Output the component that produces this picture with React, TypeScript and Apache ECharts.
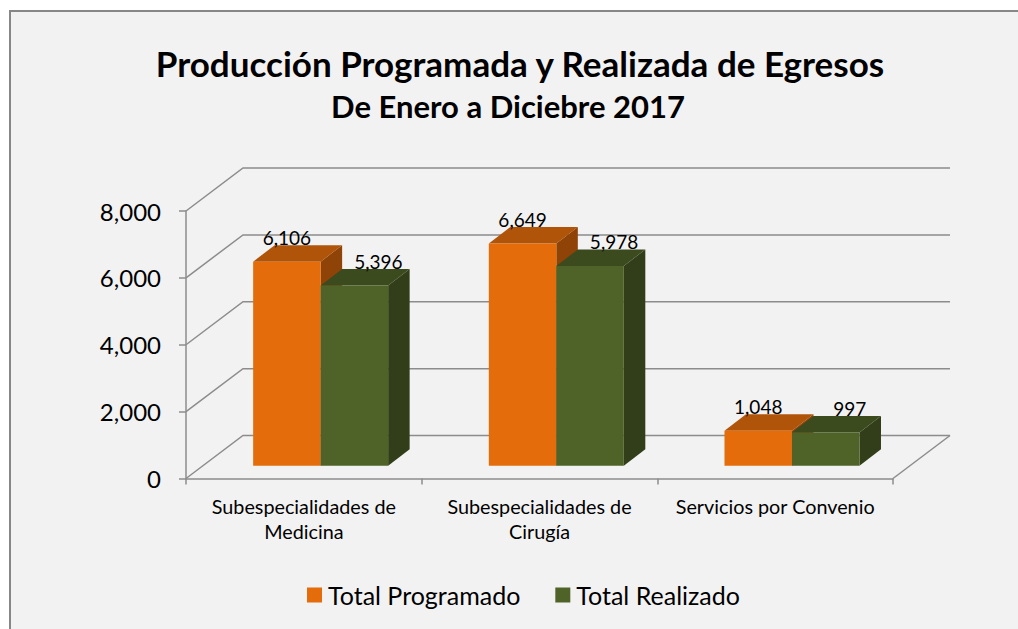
import React, { useEffect, useRef } from "react";
import * as echarts from "echarts";

const categories = ["Subespecialidades de\nMedicina", "Subespecialidades de\nCirugía", "Servicios por Convenio"];
const seriesNames = ["Total Programado", "Total Realizado"];
const programado = [6106, 6649, 1048];
const realizado = [5396, 5978, 997];
const yTicks = [0, 2000, 4000, 6000, 8000];
const titleText = "Producción Programada y Realizada de Egresos";
const subtitleText = "De Enero a Diciebre 2017";

const FONT = "Lato, 'Noto Sans', sans-serif";
const GRID_LINE = "#8c8c8c";
// oblique projection offsets
const WALL_DX = 57;
const WALL_DY = 43;
const PLANE_T = 0.295;
const BAR_DX = 21.5;
const BAR_DY = 16.5;
const BAR_RATIO = 0.2864;

const palettes = [
  { front: "#E46C0A", top: "#B0540A", side: "#8F4307" },
  { front: "#4F6228", top: "#3C4B1E", side: "#323E19" },
];

function makeBarRender(si: number) {
  return (params: any, api: any) => {
    const i = api.value(0);
    const v = api.value(1);
    const p0 = api.coord([i, 0]);
    const p1 = api.coord([i, v]);
    const band = api.size([1, 0])[0];
    const w = band * BAR_RATIO;
    const pdx = WALL_DX * PLANE_T;
    const pdy = WALL_DY * PLANE_T;
    const cx = p0[0] + pdx;
    const L = si === 0 ? cx - w : cx;
    const R = L + w;
    const T = p1[1] - pdy;
    const B = p0[1] - pdy;
    const pal = palettes[si];
    const labelX = L + w / 2 + (si === 1 ? 24 : 0);
    return {
      type: "group",
      children: [
        {
          type: "polygon",
          shape: { points: [[R, T], [R + BAR_DX, T - BAR_DY], [R + BAR_DX, B - BAR_DY], [R, B]] },
          style: { fill: pal.side },
        },
        {
          type: "polygon",
          shape: { points: [[L, T], [R, T], [R + BAR_DX, T - BAR_DY], [L + BAR_DX, T - BAR_DY]] },
          style: { fill: pal.top },
        },
        {
          type: "rect",
          shape: { x: L, y: T, width: w, height: B - T },
          style: { fill: pal.front },
        },
        {
          type: "text",
          x: labelX,
          y: T - 24,
          style: {
            text: v.toLocaleString("en-US"),
            fill: "#000",
            font: `19px ${FONT}`,
            align: "center",
            verticalAlign: "middle",
          },
        },
      ],
    };
  };
}

function wallRender(params: any, api: any) {
  const v = api.value(1);
  const cs = params.coordSys;
  const x0 = cs.x;
  const x1 = cs.x + cs.width;
  const y = api.coord([0, v])[1];
  const children: any[] = [
    {
      type: "polyline",
      shape: { points: [[x0, y], [x0 + WALL_DX, y - WALL_DY], [x1 + WALL_DX, y - WALL_DY]] },
      style: { stroke: GRID_LINE, lineWidth: 1.5, fill: "none" },
    },
  ];
  if (v === 0) {
    children.push({
      type: "line",
      shape: { x1: x1, y1: y, x2: x1 + WALL_DX, y2: y - WALL_DY },
      style: { stroke: GRID_LINE, lineWidth: 1.5 },
    });
  }
  return { type: "group", children };
}

export default function App() {
  const ref = useRef<HTMLDivElement>(null);
  useEffect(() => {
    if (!ref.current) return;
    const chart = echarts.init(ref.current, null, { renderer: "svg" });
    chart.setOption({
      animation: false,
      textStyle: { fontFamily: FONT },
      graphic: [
        {
          type: "rect",
          z: -100,
          shape: { x: 10, y: 11, width: 1200, height: 800 },
          style: { fill: "#f2f2f2", stroke: "#878787", lineWidth: 2 },
        },
        {
          type: "text",
          x: 520,
          y: 63,
          style: {
            text: titleText,
            font: `bold 35px ${FONT}`,
            fill: "#000",
            align: "center",
            verticalAlign: "middle",
          },
        },
        {
          type: "text",
          x: 508,
          y: 106,
          style: {
            text: subtitleText,
            font: `bold 31px ${FONT}`,
            fill: "#000",
            align: "center",
            verticalAlign: "middle",
          },
        },
      ],
      legend: {
        data: seriesNames,
        left: 302,
        top: 577,
        itemWidth: 15,
        itemHeight: 15,
        itemGap: 35,
        icon: "rect",
        textStyle: { fontSize: 25, color: "#000", fontFamily: FONT, lineHeight: 26, padding: [0, 0, 0, 1] },
      },
      grid: { left: 186, right: 125, top: 211, bottom: 150.5, containLabel: false },
      xAxis: {
        type: "category",
        data: categories,
        boundaryGap: true,
        axisLine: { show: true, lineStyle: { color: GRID_LINE, width: 1.5 } },
        axisTick: { show: true, length: 6, alignWithLabel: false, lineStyle: { color: GRID_LINE, width: 1.5 } },
        axisLabel: { color: "#000", fontSize: 19.8, lineHeight: 25, margin: 15, fontFamily: FONT, interval: 0 },
        splitLine: { show: false },
      },
      yAxis: {
        type: "value",
        min: yTicks[0],
        max: yTicks[yTicks.length - 1],
        interval: 2000,
        axisLine: { show: true, lineStyle: { color: GRID_LINE, width: 1.5 } },
        axisTick: { show: true, length: 7, lineStyle: { color: GRID_LINE, width: 1.5 } },
        axisLabel: {
          color: "#000",
          fontSize: 24,
          margin: 25,
          fontFamily: FONT,
          formatter: (v: number) => v.toLocaleString("en-US"),
        },
        splitLine: { show: false },
      },
      series: [
        {
          type: "custom",
          name: "walls",
          z: 1,
          silent: true,
          data: yTicks.map((t) => [0, t]),
          encode: { x: 0, y: 1 },
          renderItem: wallRender,
        },
        {
          type: "custom",
          name: seriesNames[0],
          z: 3,
          itemStyle: { color: palettes[0].front },
          data: programado.map((v, i) => [i, v]),
          encode: { x: 0, y: 1 },
          renderItem: makeBarRender(0),
        },
        {
          type: "custom",
          name: seriesNames[1],
          z: 4,
          itemStyle: { color: palettes[1].front },
          data: realizado.map((v, i) => [i, v]),
          encode: { x: 0, y: 1 },
          renderItem: makeBarRender(1),
        },
      ],
    });
    return () => chart.dispose();
  }, []);
  return (
    <div
      ref={ref}
      style={{ position: "absolute", left: 0, top: 0, width: 1018, height: 629, background: "#fff" }}
    />
  );
}
